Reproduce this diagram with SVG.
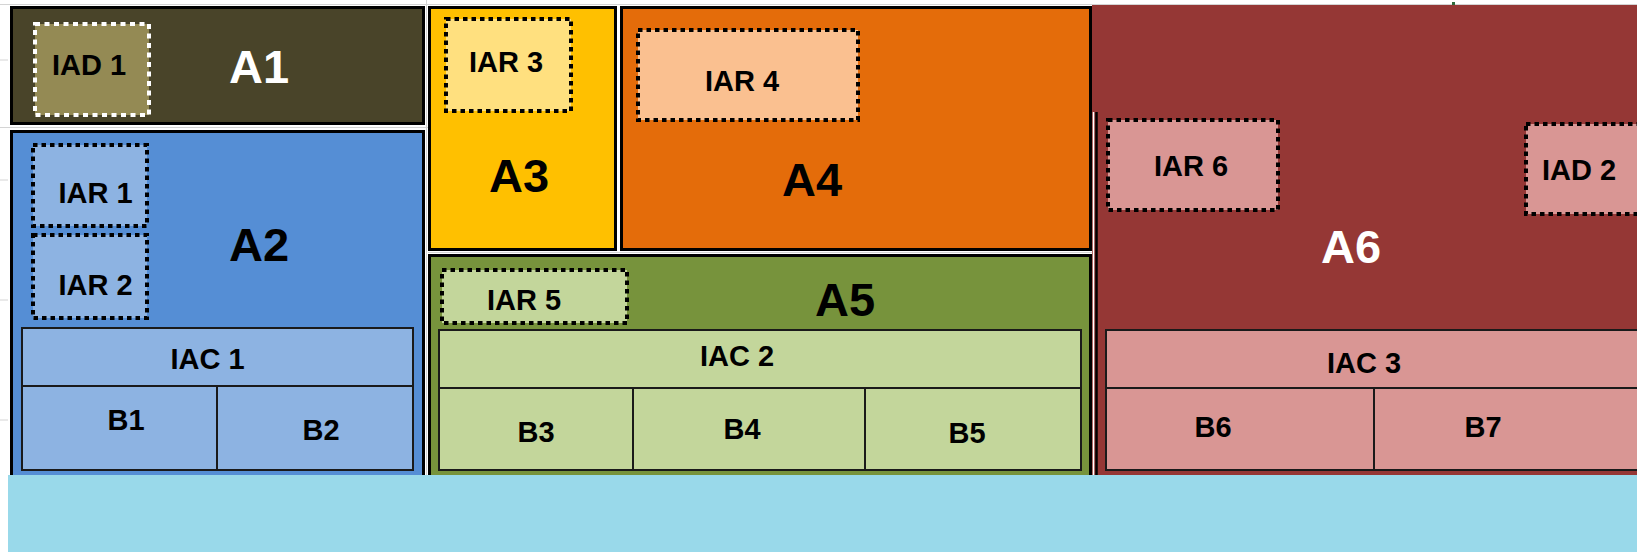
<svg xmlns="http://www.w3.org/2000/svg" width="1637" height="552" viewBox="0 0 1637 552">
<style>
.area{stroke:#000;stroke-width:3}
.dot{stroke:#000;stroke-width:4;stroke-dasharray:4.5 4}
.wdot{stroke:#fff;stroke-width:4;stroke-dasharray:5 4.5}
.cell{stroke:#1a1a1a;stroke-width:2}
.t{font-family:"Liberation Sans",Arial,sans-serif;font-weight:bold;font-size:29px;text-anchor:middle;fill:#000}
.big{font-family:"Liberation Sans",Arial,sans-serif;font-weight:bold;font-size:47px;text-anchor:middle;fill:#000}
.w{fill:#fff}
</style>
<rect x="0" y="0" width="1637" height="552" fill="#fff"/>
<g id="grid" stroke="#d4d4d4" stroke-width="1">
<line x1="0" y1="4.5" x2="1637" y2="4.5"/>
<line x1="0" y1="127.5" x2="428" y2="127.5"/>
<line x1="426.5" y1="0" x2="426.5" y2="475"/>
<line x1="428" y1="252.5" x2="1092" y2="252.5"/>
<line x1="0" y1="60" x2="8" y2="60"/>
<line x1="0" y1="180" x2="8" y2="180"/>
<line x1="0" y1="300" x2="8" y2="300"/>
<line x1="0" y1="420" x2="8" y2="420"/>
</g>
<g id="A6">
<rect x="1092" y="5" width="545" height="470" fill="#953735"/>
<line x1="1093.5" y1="112" x2="1093.5" y2="475" stroke="#fff" stroke-width="1.5"/>
<line x1="1096.5" y1="112" x2="1096.5" y2="475" stroke="#000" stroke-width="2.5"/>
<rect x="1452" y="2" width="3" height="3" fill="#2e6b3a"/>
<text class="big w" x="1351" y="263">A6</text>
</g>
<g id="IAR6">
<rect class="dot" x="1108" y="120" width="170" height="90" fill="#d99694"/>
<text class="t" x="1191" y="176">IAR 6</text>
</g>
<g id="IAD2">
<rect class="dot" x="1526" y="124" width="130" height="90" fill="#d99694"/>
<text class="t" x="1579" y="180">IAD 2</text>
</g>
<g id="IAC3">
<rect class="cell" x="1106" y="330" width="560" height="58" fill="#d99694"/>
<text class="t" x="1364" y="373">IAC 3</text>
</g>
<g id="B6">
<rect class="cell" x="1106" y="388" width="268" height="82" fill="#d99694"/>
<text class="t" x="1213" y="437">B6</text>
</g>
<g id="B7">
<rect class="cell" x="1374" y="388" width="292" height="82" fill="#d99694"/>
<text class="t" x="1483" y="437">B7</text>
</g>
<g id="A1">
<rect class="area" x="11.5" y="7.5" width="412" height="116" fill="#494429"/>
<text class="big w" x="259" y="83">A1</text>
</g>
<g id="IAD1">
<rect class="wdot" x="35" y="24" width="114" height="91" fill="#948a54"/>
<text class="t" x="89" y="75">IAD 1</text>
</g>
<g id="A2">
<rect class="area" x="11.5" y="131.5" width="412" height="360" fill="#558ed5"/>
<text class="big" x="259" y="261">A2</text>
</g>
<g id="IAR1">
<rect class="dot" x="33" y="145" width="114" height="81" fill="#8db3e2"/>
<text class="t" x="95.5" y="203">IAR 1</text>
</g>
<g id="IAR2">
<rect class="dot" x="33" y="235" width="114" height="83" fill="#8db3e2"/>
<text class="t" x="95.5" y="295">IAR 2</text>
</g>
<g id="IAC1">
<rect class="cell" x="22" y="328" width="391" height="58" fill="#8db3e2"/>
<text class="t" x="207.5" y="369">IAC 1</text>
</g>
<g id="B1">
<rect class="cell" x="22" y="386" width="195" height="84" fill="#8db3e2"/>
<text class="t" x="126" y="430">B1</text>
</g>
<g id="B2">
<rect class="cell" x="217" y="386" width="196" height="84" fill="#8db3e2"/>
<text class="t" x="321" y="440">B2</text>
</g>
<g id="A3">
<rect class="area" x="429.5" y="7.5" width="186" height="242" fill="#ffc000"/>
<text class="big" x="519" y="192">A3</text>
</g>
<g id="IAR3">
<rect class="dot" x="446" y="19" width="125" height="92" fill="#ffe07f"/>
<text class="t" x="506" y="72">IAR 3</text>
</g>
<g id="A4">
<rect class="area" x="621.5" y="7.5" width="469" height="242" fill="#e46c0a"/>
<text class="big" x="812" y="196">A4</text>
</g>
<g id="IAR4">
<rect class="dot" x="638" y="30" width="220" height="90" fill="#fac090"/>
<text class="t" x="742" y="91">IAR 4</text>
</g>
<g id="A5">
<rect class="area" x="429.5" y="255.5" width="661" height="240" fill="#77933c"/>
<text class="big" x="845" y="316">A5</text>
</g>
<g id="IAR5">
<rect class="dot" x="442" y="270" width="185" height="53" fill="#c3d69b"/>
<text class="t" x="524" y="310">IAR 5</text>
</g>
<g id="IAC2">
<rect class="cell" x="439" y="330" width="642" height="58" fill="#c3d69b"/>
<text class="t" x="737" y="366">IAC 2</text>
</g>
<g id="B3">
<rect class="cell" x="439" y="388" width="194" height="82" fill="#c3d69b"/>
<text class="t" x="536" y="442">B3</text>
</g>
<g id="B4">
<rect class="cell" x="633" y="388" width="232" height="82" fill="#c3d69b"/>
<text class="t" x="742" y="439">B4</text>
</g>
<g id="B5">
<rect class="cell" x="865" y="388" width="216" height="82" fill="#c3d69b"/>
<text class="t" x="967" y="443">B5</text>
</g>
<g id="connectors"></g>
<g id="band">
<rect x="8" y="475" width="1629" height="77" fill="#99d9ea"/>
</g>
</svg>
